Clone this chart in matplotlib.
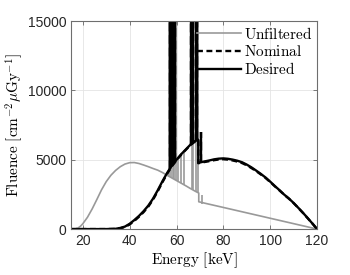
import matplotlib
matplotlib.use("Agg")
import matplotlib.pyplot as plt

plt.rcParams['mathtext.fontset'] = 'cm'
plt.rcParams['font.family'] = ['Liberation Sans', 'DejaVu Sans']

# continuum spectra (energy in keV, fluence)
E_unf = [15, 16, 17, 18, 19, 20, 22, 24, 26, 28, 30, 32, 34, 36, 38, 40, 42, 44, 46, 48,
         50, 52, 54, 56, 58, 60, 62, 64, 66, 68, 69.5, 69.5, 72, 80, 90, 100, 110, 120]
unf = [0, 0, 20, 80, 200, 380, 850, 1450, 2130, 2830, 3420, 3880, 4230, 4500, 4690, 4790,
       4800, 4730, 4620, 4500, 4370, 4250, 4080, 3880, 3690, 3500, 3310, 3120, 2920, 2730,
       2600, 1970, 1870, 1560, 1170, 780, 390, 0]

E_des = [15, 30, 34, 36, 38, 40, 42, 44, 46, 48, 50, 52, 54, 56, 58, 60, 62, 64, 66, 68,
         69.3, 69.3, 72, 74, 76, 78, 80, 82, 84, 86, 88, 90, 92, 94, 96, 98, 100, 102, 104,
         106, 108, 110, 112, 114, 116, 118, 120]
des = [0, 0, 20, 80, 180, 380, 650, 950, 1300, 1700, 2200, 2800, 3450, 4050, 4580, 5000,
       5400, 5750, 6100, 6350, 6450, 4780, 4880, 4950, 5030, 5080, 5100, 5070, 5010, 4930,
       4820, 4650, 4450, 4220, 3980, 3720, 3420, 3100, 2800, 2480, 2200, 1880, 1530, 1170,
       790, 400, 0]
nom = [0, 0, 10, 60, 150, 330, 590, 890, 1230, 1630, 2130, 2730, 3380, 3990, 4530, 4960,
       5370, 5720, 6070, 6330, 6430, 4750, 4840, 4900, 4970, 5020, 5040, 5010, 4950, 4870,
       4760, 4600, 4400, 4180, 3940, 3690, 3390, 3080, 2780, 2470, 2190, 1870, 1520, 1160,
       780, 400, 0]

# characteristic lines: energy, foot, top
unf_line_E = [57.0, 57.6, 58.4, 59.0, 59.9, 60.6, 62.0, 63.4, 66.5, 67.0, 68.5, 69.0, 71.0]
unf_line_lo = [3790, 3730, 3650, 3590, 3510, 3440, 3310, 3180, 2870, 2820, 2680, 2630, 1830]
unf_line_hi = [20000, 20000, 20000, 20000, 20000, 5100, 5380, 5640, 20000, 20000, 20000,
               20000, 2450]

des_line_E = [57.2, 57.7, 58.2, 58.7, 59.2, 66.2, 66.7, 67.2, 68.3, 68.9, 70.6]
des_line_lo = [4380, 4500, 4630, 4750, 4850, 6130, 6190, 6250, 6360, 6420, 4830]
des_line_hi = [20000] * 10 + [7000]
nom_line_lo = [4330, 4450, 4580, 4700, 4810, 6100, 6160, 6220, 6340, 6400, 4800]

gray = '#999999'

fig = plt.figure(figsize=(3.5, 2.75), dpi=100)
ax = fig.add_axes([0.203, 0.167, 0.703, 0.756])

ax.plot(E_unf, unf, color=gray, lw=1.2, label=r'$\mathrm{Unfiltered}$')
ax.vlines(unf_line_E, unf_line_lo, unf_line_hi, color=gray, lw=1.2)

ax.plot(E_des, nom, color='black', lw=1.7, ls=(0, (2.5, 1.5)), label=r'$\mathrm{Nominal}$')
ax.vlines(des_line_E, nom_line_lo, des_line_hi, color='black', lw=1.7, linestyles='dashed')

ax.plot(E_des, des, color='black', lw=1.7, label=r'$\mathrm{Desired}$')
ax.vlines(des_line_E, des_line_lo, des_line_hi, color='black', lw=1.7)

ax.set_xlim(15, 120)
ax.set_ylim(0, 15000)
ax.set_xticks([20, 40, 60, 80, 100, 120])
ax.set_yticks([0, 5000, 10000, 15000])
ax.grid(True, color='#e4e4e4', lw=0.6)
ax.set_axisbelow(True)
ax.tick_params(direction='in', length=3, width=0.6, top=True, right=True,
               labelsize=10, colors='#666666', labelcolor='#262626')
for s in ax.spines.values():
    s.set_color('#6e6e6e')
    s.set_linewidth(0.8)

ax.set_xlabel(r'$\mathrm{Energy\ [keV]}$', fontsize=11, labelpad=2)
ax.set_ylabel(r'$\mathrm{Fluence\ [cm^{-2}}\mu\mathrm{Gy^{-1}]}$', fontsize=11, labelpad=2)

ax.legend(loc='upper right', frameon=False, fontsize=11, handlelength=2.9,
          handletextpad=0.2, labelspacing=0.15, borderaxespad=0.05, borderpad=0.25)

fig.savefig('out.png', dpi=100)
